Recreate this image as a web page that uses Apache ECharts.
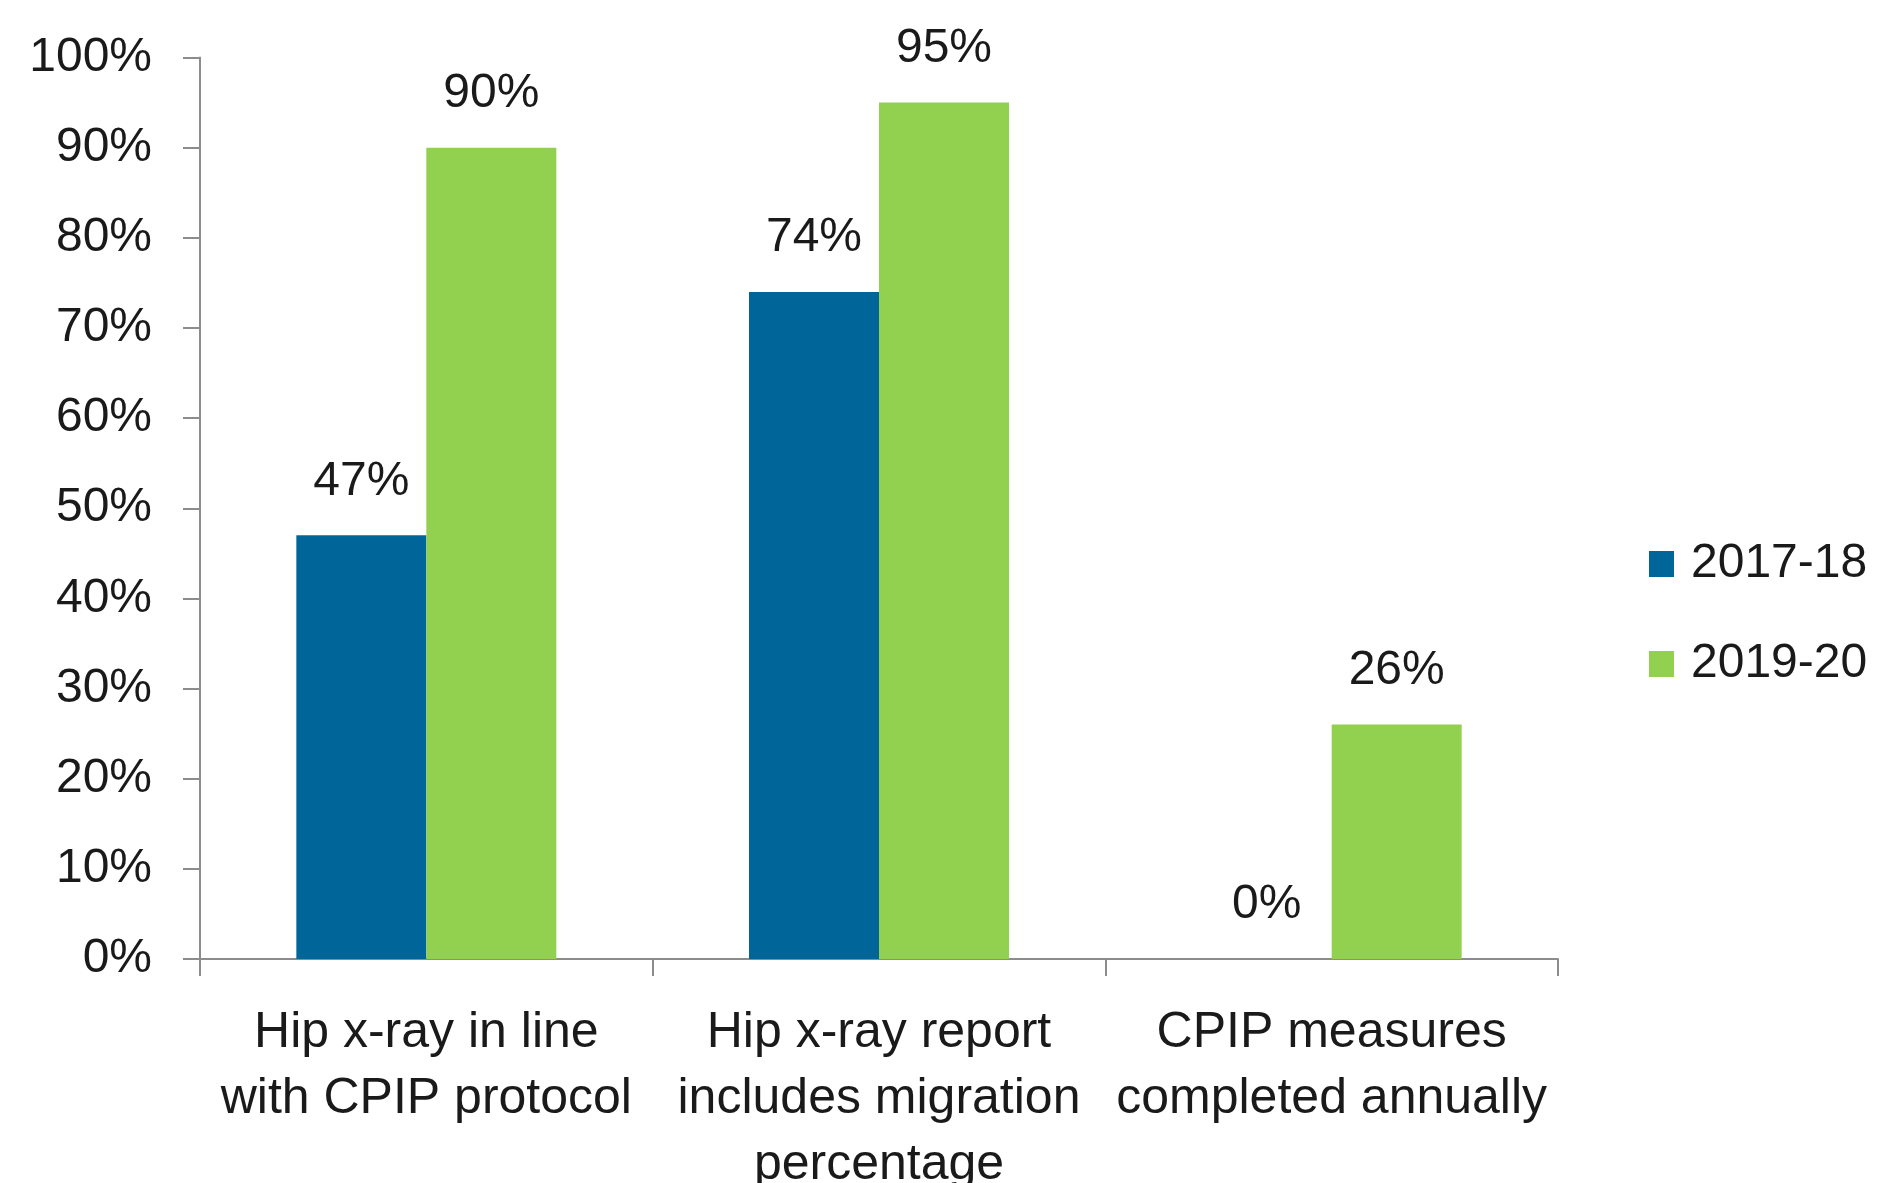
<!DOCTYPE html>
<html>
<head>
<meta charset="utf-8">
<script src="https://cdn.jsdelivr.net/npm/echarts@6/dist/echarts.min.js"></script>
<style>
  html, body { margin: 0; padding: 0; background: #fff; }
  #chart { width: 1879px; height: 1183px; }
</style>
</head>
<body>
<div id="chart"></div>
<script>
// categories and series values (percent)
const categories = [
  'Hip x-ray in line\nwith CPIP protocol',
  'Hip x-ray report\nincludes migration\npercentage',
  'CPIP measures\ncompleted annually'
]
const seriesNames = ['2017-18', '2019-20']
const values1718 = [47, 74, 0]
const values1920 = [90, 95, 26]
const colors = ['#006699', '#92D050']

const font = 'Liberation Sans, Arial, sans-serif'
const axisGray = '#8c8c8c'

const myChart = echarts.init(document.getElementById('chart'))

const labelStyle = {
  show: true,
  position: 'top',
  distance: 30,
  formatter: '{c}%',
  color: '#1a1a1a',
  fontSize: 48,
  fontFamily: font
}

myChart.setOption({
  animation: false,
  color: colors,
  grid: {
    left: 200,
    right: 321,
    top: 57.5,
    bottom: 224,
    outerBoundsMode: 'none'
  },
  legend: {
    orient: 'vertical',
    left: 1644,
    top: 535,
    itemWidth: 25,
    itemHeight: 26,
    itemGap: 52,
    icon: 'rect',
    textStyle: { fontSize: 48, fontFamily: font, color: '#1a1a1a', padding: [0, 0, 0, 12] },
    data: seriesNames
  },
  xAxis: {
    type: 'category',
    data: categories,
    axisLine: { lineStyle: { color: axisGray, width: 2 } },
    axisTick: { show: true, length: 17, lineStyle: { color: axisGray, width: 2 } },
    axisLabel: {
      margin: 41,
      fontSize: 50,
      lineHeight: 66,
      fontFamily: font,
      color: '#1a1a1a',
      interval: 0
    }
  },
  yAxis: {
    type: 'value',
    min: 0,
    max: 100,
    interval: 10,
    axisLine: { show: true, lineStyle: { color: axisGray, width: 2 } },
    axisTick: { show: true, length: 17, lineStyle: { color: axisGray, width: 2 } },
    splitLine: { show: false },
    axisLabel: {
      formatter: '{value}%',
      margin: 48,
      fontSize: 48,
      fontFamily: font,
      color: '#1a1a1a'
    }
  },
  series: [
    {
      name: seriesNames[0],
      type: 'bar',
      data: values1718,
      barWidth: 130,
      barGap: '0%',
      label: labelStyle
    },
    {
      name: seriesNames[1],
      type: 'bar',
      data: values1920,
      barWidth: 130,
      barGap: '0%',
      label: labelStyle
    }
  ]
})
</script>
</body>
</html>
